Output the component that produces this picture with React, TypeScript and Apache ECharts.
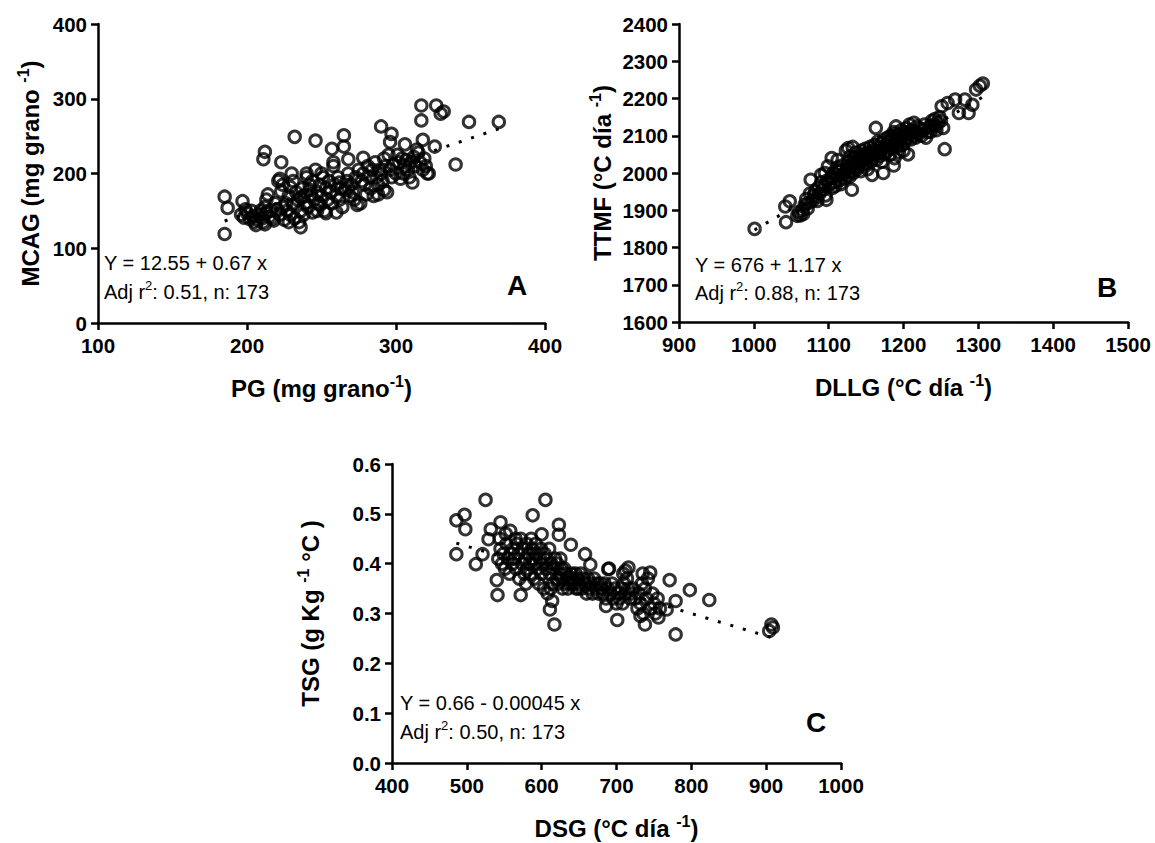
import React, { useEffect, useRef } from "react";
import * as echarts from "echarts";

const FONT = '"Liberation Sans", Arial, Helvetica, sans-serif';

// Panel A: PG (x) vs MCAG (y)
const pointsA: [number, number][] = [
  [185,119],[185,169],[187,154],[197,163],[212,229],[211,219],[223,215],[232,249],[246,244],[257,233],
  [265,251],[265,236],[268,219],[278,221],[290,263],[297,253],[296,242],[306,239],[317,291],[317,271],
  [318,245],[327,291],[330,280],[332,283],[326,236],[349,269],[369,269],[340,212],[322,200],[236,128],
  [260,148],
  [196,145],[198,141],[200,147],[202,139],[203,150],[205,135],[204,143],[206,131],[207,138],[199,152],
  [208,145],[209,150],[210,140],[211,135],[212,155],[213,147],[214,172],[213,165],[215,142],[212,132],
  [216,150],[217,140],[218,137],[219,160],[220,152],[221,190],[222,145],[223,176],[224,185],[225,138],[224,155],[222,193],
  [226,160],[227,150],[228,170],[229,145],[230,200],[231,158],[232,140],[233,175],[234,165],[235,135],[229,182],[231,190],
  [236,150],[237,180],[238,170],[239,160],[240,195],[241,155],[242,185],[243,172],[244,148],[245,165],[238,145],[240,200],[242,178],[244,190],[236,168],
  [246,205],[247,175],[248,160],[249,185],[250,170],[251,195],[252,150],[253,180],[254,165],[255,190],[247,150],[250,200],[249,158],
  [256,175],[257,160],[258,210],[259,185],[260,170],[261,195],[262,165],[263,180],[264,155],[258,215],[262,188],
  [266,178],[267,190],[268,200],[269,170],[270,185],[271,175],[272,165],[273,195],[274,158],[275,205],[268,181],
  [276,160],[277,190],[278,200],[279,185],[280,172],[281,210],[282,195],[283,180],[284,205],[285,170],
  [286,215],[287,195],[288,185],[289,205],[290,200],[291,190],[292,178],[293,210],[294,175],[295,225],[292,220],
  [296,205],[297,195],[298,212],[300,200],[302,215],[303,193],[304,220],[305,200],[301,225],
  [306,210],[307,218],[308,205],[309,195],[310,215],[311,188],[312,222],[313,210],[315,228],[316,215],[318,205],[319,220],[320,210],[321,200],[314,232],
  [228,135],[253,147],[288,172]
];

// Panel B: DLLG (x) vs TTMF (y)
const pointsB: [number, number][] = [
  [1001,1850],[1043,1868],[1042,1910],[1048,1924],[1062,1886],[1076,1982],[1097,1928],[1099,2018],[1131,1955],[1126,2067],
  [1163,2121],[1173,2000],[1255,2064],[1253,2121],[1251,2179],[1259,2188],[1269,2197],[1274,2161],[1287,2161],[1282,2197],
  [1292,2183],[1297,2224],[1302,2234],[1306,2240],[1187,2020],
  [1065,1900],[1068,1915],[1070,1930],[1072,1905],[1075,1945],[1078,1925],[1080,1940],[1074,1920],[1066,1890],
  [1082,1950],[1084,1935],[1086,1960],[1088,1945],[1090,1975],[1092,1955],[1094,1965],[1096,1940],[1098,1980],[1085,1925],[1090,1995],[1095,2000],
  [1101,1970],[1103,1985],[1105,1960],[1106,2000],[1108,1975],[1110,2010],[1111,1990],[1112,2035],[1114,1980],[1115,2005],[1116,1970],[1118,2020],[1119,1995],[1104,2040],[1109,1965],[1113,2015],
  [1121,2000],[1122,1985],[1123,2060],[1124,2010],[1125,1995],[1126,2030],[1127,2015],[1128,1990],[1129,2045],[1130,2005],[1131,2025],[1132,2070],[1133,2000],[1134,2040],[1135,2015],[1136,2030],[1137,2055],[1138,2010],[1139,2035],[1140,2020],
  [1141,2045],[1142,2030],[1143,2005],[1144,2060],[1145,2040],[1146,2020],[1147,2050],[1148,2035],[1149,2065],[1150,2025],[1151,2045],[1152,2010],[1153,2055],[1154,2040],[1155,2070],[1156,2030],[1157,2050],[1158,1995],[1159,2060],[1160,2040],
  [1161,2075],[1162,2050],[1164,2035],[1165,2060],[1166,2085],[1167,2045],[1168,2070],[1169,2055],[1170,2080],[1171,2030],[1172,2065],[1174,2090],[1175,2050],[1176,2075],[1178,2060],[1179,2095],[1180,2070],
  [1181,2085],[1182,2050],[1183,2100],[1184,2065],[1185,2090],[1186,2075],[1187,2110],[1188,2040],[1189,2085],[1190,2125],[1191,2070],[1192,2095],[1193,2080],[1194,2055],[1195,2105],[1196,2090],[1197,2115],[1198,2075],[1199,2100],[1200,2060],
  [1201,2110],[1202,2085],[1204,2120],[1205,2095],[1206,2050],[1207,2105],[1208,2130],[1210,2090],[1211,2115],[1212,2100],[1214,2135],[1215,2110],[1216,2095],[1218,2125],[1220,2105],
  [1222,2120],[1224,2100],[1226,2115],[1228,2130],[1230,2095],[1232,2110],[1235,2125],[1238,2140],[1240,2130],[1242,2145],[1244,2115],[1246,2135],[1248,2150],[1250,2140],
  [1060,1895],[1058,1885],[1236,2110],[1243,2125],[1190,2105]
];

// Panel C: DSG (x) vs TSG (y)
const pointsC: [number, number][] = [
  [486,0.419],[486,0.487],[497,0.498],[498,0.469],[512,0.399],[525,0.528],[521,0.419],[605,0.528],[588,0.497],[623,0.478],
  [623,0.458],[639,0.438],[658,0.419],[665,0.398],[541,0.337],[540,0.367],[572,0.337],[611,0.308],[617,0.278],[614,0.325],
  [701,0.287],[738,0.278],[779,0.258],[771,0.367],[798,0.347],[824,0.327],[904,0.265],[907,0.278],[909,0.272],[732,0.295],
  [756,0.292],[767,0.308],[779,0.325],[712,0.386],[716,0.392],[745,0.382],[689,0.389],[686,0.315],[600,0.459],[558,0.466],
  [545,0.483],[532,0.469],[529,0.449],
  [542,0.41],[545,0.43],[547,0.40],[549,0.42],[551,0.39],[553,0.44],[555,0.41],[557,0.38],[559,0.42],[544,0.45],[552,0.46],
  [561,0.40],[562,0.43],[564,0.41],[566,0.39],[567,0.44],[569,0.42],[570,0.37],[572,0.45],[574,0.40],[575,0.43],[577,0.38],[578,0.41],[580,0.44],[565,0.45],[579,0.36],
  [581,0.39],[582,0.42],[584,0.40],[585,0.38],[587,0.43],[588,0.41],[590,0.37],[591,0.40],[593,0.42],[595,0.39],[596,0.36],[598,0.41],[600,0.38],[586,0.45],[592,0.44],[599,0.43],
  [601,0.40],[603,0.35],[604,0.42],[606,0.39],[607,0.41],[608,0.34],[610,0.43],[611,0.38],[613,0.40],[615,0.36],[616,0.39],[618,0.41],[620,0.37],[612,0.35],
  [621,0.40],[622,0.36],[624,0.38],[625,0.41],[627,0.37],[628,0.35],[630,0.39],[631,0.36],[633,0.38],[635,0.35],[636,0.37],[638,0.36],[640,0.38],[626,0.39],
  [641,0.37],[643,0.36],[645,0.38],[646,0.35],[648,0.37],[650,0.36],[652,0.38],[654,0.35],[656,0.37],[658,0.36],[660,0.34],[649,0.35],
  [662,0.37],[664,0.35],[666,0.36],[668,0.34],[670,0.37],[672,0.35],[674,0.36],[676,0.34],[678,0.36],[680,0.35],
  [682,0.34],[684,0.36],[686,0.33],[688,0.35],[690,0.39],[692,0.34],[694,0.36],[696,0.33],[698,0.35],[700,0.32],
  [702,0.34],[704,0.33],[706,0.35],[708,0.32],[710,0.36],[712,0.34],[714,0.37],[716,0.35],[718,0.33],[720,0.34],[709,0.38],
  [722,0.35],[725,0.33],[728,0.31],[730,0.34],[732,0.32],[734,0.36],[736,0.30],[738,0.35],[740,0.33],[742,0.37],[745,0.31],[748,0.34],[750,0.32],[752,0.30],[755,0.33],[758,0.31],[735,0.38]
];

// Regression coefficients [intercept, slope]
const fitA = [12.55, 0.67];
const fitB = [676, 1.17];
const fitC = [0.66, -0.00045];

// Axis ranges [min, max, interval]
const xRangeA = [100, 400, 100];
const yRangeA = [0, 400, 100];
const xRangeB = [900, 1500, 100];
const yRangeB = [1600, 2400, 100];
const xRangeC = [400, 1000, 100];
const yRangeC = [0, 0.6, 0.1];

// Titles
const xNames = ["PG (mg grano{s|-1})", "DLLG (°C día {s|-1})", "DSG (°C día {s|-1})"];
const yNames = ["MCAG (mg grano {s|-1})", "TTMF (°C día {s|-1})", "TSG (g Kg {s|-1} °C )"];
const eqTexts = ["Y = 12.55 + 0.67 x", "Y = 676 + 1.17 x", "Y = 0.66 - 0.00045 x"];
const statTexts = ["Adj r{s|2}: 0.51, n: 173", "Adj r{s|2}: 0.88, n: 173", "Adj r{s|2}: 0.50, n: 173"];
const panelLetters = ["A", "B", "C"];

function fitLine(points: [number, number][], fit: number[]) {
  const xs = points.map((p) => p[0]);
  const x0 = Math.min(...xs);
  const x1 = Math.max(...xs);
  return [
    [x0, fit[0] + fit[1] * x0],
    [x1, fit[0] + fit[1] * x1],
  ];
}

const nameStyle = () => ({
  fontSize: 24,
  fontWeight: "bold" as const,
  fontFamily: FONT,
  color: "#000",
  lineHeight: 30,
  rich: {
    s: {
      fontSize: 16,
      fontWeight: "bold" as const,
      fontFamily: FONT,
      color: "#000",
      lineHeight: 14,
      verticalAlign: "top" as const,
    },
  },
});

function makeAxis(
  idx: number,
  range: number[],
  name: string,
  nameGap: number,
  isY: boolean,
  formatter: (v: number) => string = (v: number) => String(v)
) {
  return {
    type: "value",
    gridIndex: idx,
    min: range[0],
    max: range[1],
    interval: range[2],
    name,
    nameLocation: "middle",
    nameGap,
    nameTextStyle: nameStyle(),
    axisLine: { show: true, onZero: false, lineStyle: { color: "#000", width: 2.5 } },
    axisTick: { show: true, length: 7, lineStyle: { color: "#000", width: 2.5 } },
    axisLabel: {
      show: true,
      fontSize: 20.5,
      fontWeight: "bold",
      fontFamily: FONT,
      color: "#000",
      margin: isY ? 11 : 12,
      showMinLabel: true,
      showMaxLabel: true,
      formatter,
    },
    splitLine: { show: false },
  };
}

export default function App() {
  const ref = useRef<HTMLDivElement>(null);
  useEffect(() => {
    if (!ref.current) return;
    const chart = echarts.init(ref.current, undefined, { renderer: "svg" });

    const scatterStyle = {
      symbol: "circle",
      symbolSize: 11.5,
      itemStyle: { color: "rgba(0,0,0,0)", borderColor: "#000", borderWidth: 3 },
      silent: true,
      z: 3,
    };
    const lineStyle = {
      showSymbol: false,
      symbol: "none",
      lineStyle: { color: "#000", width: 3, type: [3, 10] },
      silent: true,
      z: 2,
    };

    const allPoints = [pointsA, pointsB, pointsC];
    const fits = [fitA, fitB, fitC];

    const series: any[] = [];
    allPoints.forEach((pts, i) => {
      series.push({ type: "line", xAxisIndex: i, yAxisIndex: i, data: fitLine(pts, fits[i]), ...lineStyle });
      series.push({ type: "scatter", xAxisIndex: i, yAxisIndex: i, data: pts, ...scatterStyle });
    });

    const annPos = [
      { x: 104, y1: 263, y2: 292, lx: 517, ly: 285 },
      { x: 695, y1: 265, y2: 293, lx: 1107, ly: 287 },
      { x: 400, y1: 703, y2: 732, lx: 816, ly: 722 },
    ];

    const graphic: any[] = [];
    annPos.forEach((p, i) => {
      graphic.push({
        type: "text",
        x: p.x,
        y: p.y1,
        silent: true,
        style: {
          text: eqTexts[i],
          fontSize: 20,
          fontFamily: FONT,
          fill: "#000",
          verticalAlign: "middle",
          align: "left",
        },
      });
      graphic.push({
        type: "text",
        x: p.x,
        y: p.y2,
        silent: true,
        style: {
          text: statTexts[i],
          fontSize: 20,
          fontFamily: FONT,
          fill: "#000",
          lineHeight: 26,
          verticalAlign: "middle",
          align: "left",
          rich: {
            s: { fontSize: 13, fontFamily: FONT, fill: "#000", lineHeight: 12, verticalAlign: "top" },
          },
        },
      });
      graphic.push({
        type: "text",
        x: p.lx,
        y: p.ly,
        silent: true,
        style: {
          text: panelLetters[i],
          fontSize: 28,
          fontWeight: "bold",
          fontFamily: FONT,
          fill: "#000",
          verticalAlign: "middle",
          align: "center",
        },
      });
    });

    chart.setOption({
      animation: false,
      backgroundColor: "#fff",
      textStyle: { fontFamily: FONT },
      grid: [
        { left: 98, top: 24, width: 447, height: 299, outerBoundsMode: "none" },
        { left: 679, top: 24, width: 449, height: 298, outerBoundsMode: "none" },
        { left: 392, top: 464, width: 449, height: 299, outerBoundsMode: "none" },
      ],
      xAxis: [
        makeAxis(0, xRangeA, xNames[0], 50, false),
        makeAxis(1, xRangeB, xNames[1], 50, false),
        makeAxis(2, xRangeC, xNames[2], 50, false),
      ],
      yAxis: [
        makeAxis(0, yRangeA, yNames[0], 53, true),
        makeAxis(1, yRangeB, yNames[1], 62, true),
        makeAxis(2, yRangeC, yNames[2], 67, true, (v: number) => v.toFixed(1)),
      ],
      series,
      graphic,
    });

    return () => chart.dispose();
  }, []);

  return (
    <div
      ref={ref}
      style={{ position: "absolute", left: 0, top: 0, width: 1155, height: 843, background: "#fff" }}
    />
  );
}
